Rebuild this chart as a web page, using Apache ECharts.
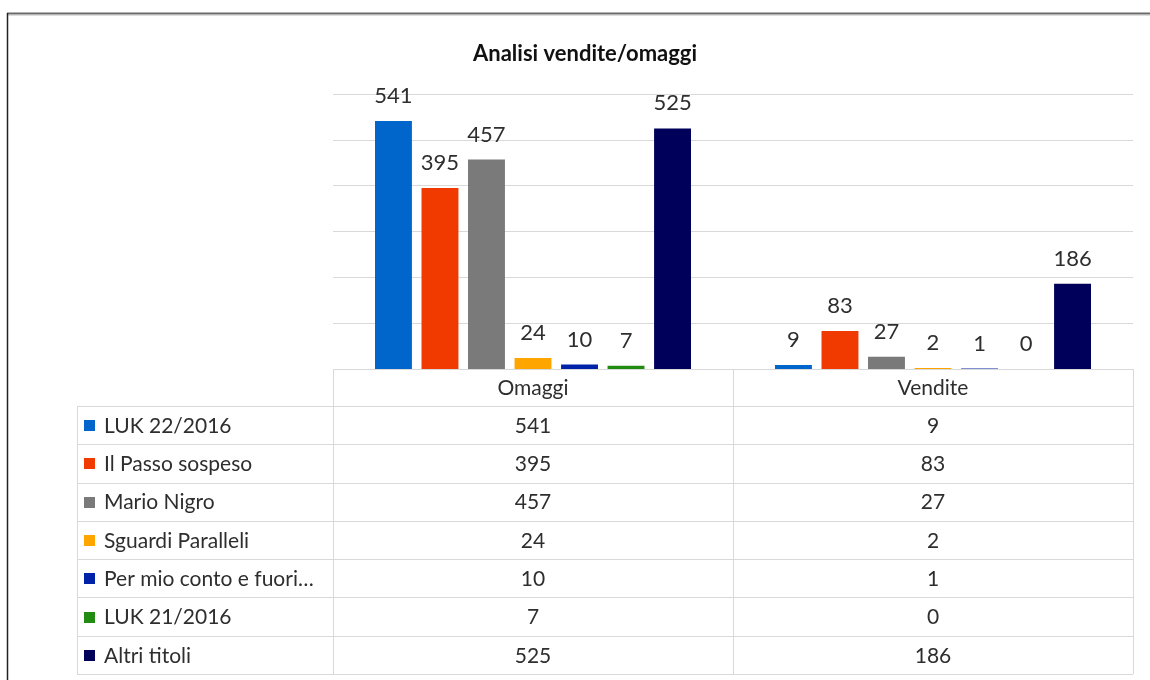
<!DOCTYPE html>
<html>
<head>
<meta charset="utf-8">
<script src="https://cdn.jsdelivr.net/npm/echarts@6/dist/echarts.min.js"></script>
<style>
html, body { margin: 0; padding: 0; background: #fff; }
#chart { width: 1150px; height: 680px; }
</style>
</head>
<body>
<div id="chart"></div>
<script>
// ====== dati ======
const categories = ['Omaggi', 'Vendite'];
const seriesNames = ['LUK 22/2016', 'Il Passo sospeso', 'Mario Nigro', 'Sguardi Paralleli',
    'Per mio conto e fuori…', 'LUK 21/2016', 'Altri titoli'];
const luk22 = [541, 9];
const passoSospeso = [395, 83];
const marioNigro = [457, 27];
const sguardiParalleli = [24, 2];
const perMioConto = [10, 1];
const luk21 = [7, 0];
const altriTitoli = [525, 186];
const yTicks = [0, 100, 200, 300, 400, 500, 600];

const seriesValues = [luk22, passoSospeso, marioNigro, sguardiParalleli, perMioConto, luk21, altriTitoli];
const palette = ['#0066CC', '#F03A00', '#7A7A7A', '#FFA500', '#0022A8', '#228B11', '#00005A'];

const FONT = 'Lato, "Noto Sans", sans-serif';
const textColor = '#2e2e2e';
const lineColor = '#d9d9d9';

// geometria tabella dati (stile Excel)
const T = { left: 77, split: 333, mid: 733, right: 1133, top: 369, head: 406, bottom: 674 };

function buildTable() {
    const g = [];
    const rowH = (T.bottom - T.head) / seriesNames.length;
    const hline = (x1, x2, y) => g.push({
        type: 'line', silent: true,
        shape: { x1: x1, y1: Math.round(y) + 0.5, x2: x2, y2: Math.round(y) + 0.5 },
        style: { stroke: lineColor, lineWidth: 1 }
    });
    const vline = (x, y1, y2) => g.push({
        type: 'line', silent: true,
        shape: { x1: x + 0.5, y1: y1, x2: x + 0.5, y2: y2 },
        style: { stroke: lineColor, lineWidth: 1 }
    });
    const txt = (s, x, y, align) => g.push({
        type: 'text', silent: true,
        style: { text: s, x: x, y: y, align: align, verticalAlign: 'middle',
            fontSize: 21, fontFamily: FONT, fill: textColor }
    });

    hline(T.split, T.right, T.top);
    for (let i = 0; i <= seriesNames.length; i++) hline(T.left, T.right, T.head + i * rowH);
    vline(T.left, T.head, T.bottom);
    vline(T.split, T.top, T.bottom);
    vline(T.mid, T.top, T.bottom);
    vline(T.right, T.top, T.bottom);

    const colX = [(T.split + T.mid) / 2, (T.mid + T.right) / 2];
    categories.forEach((c, j) => txt(c, colX[j], (T.top + T.head) / 2 + 1, 'center'));
    seriesNames.forEach((name, i) => {
        const cy = T.head + i * rowH + rowH / 2;
        g.push({
            type: 'rect', silent: true,
            shape: { x: 84, y: Math.round(cy) - 5, width: 11, height: 11 },
            style: { fill: palette[i] }
        });
        txt(name, 104, cy + 1, 'left');
        seriesValues[i].forEach((v, j) => txt(String(v), colX[j], cy + 1, 'center'));
    });

    // cornice della finestra
    g.push({ type: 'line', silent: true, shape: { x1: 7, y1: 13.5, x2: 1150, y2: 13.5 },
        style: { stroke: '#6a6a6a', lineWidth: 2 } });
    g.push({ type: 'line', silent: true, shape: { x1: 7, y1: 15.5, x2: 1150, y2: 15.5 },
        style: { stroke: '#dedede', lineWidth: 1 } });
    g.push({ type: 'line', silent: true, shape: { x1: 7.5, y1: 13, x2: 7.5, y2: 680 },
        style: { stroke: '#222', lineWidth: 1.5 } });
    return g;
}

function initChart() {
    const dom = document.getElementById('chart');
    const myChart = echarts.init(dom);

    const option = {
        backgroundColor: '#fff',
        animation: false,
        title: {
            text: 'Analisi vendite/omaggi',
            left: 468, top: 38,
            textStyle: { fontFamily: FONT, fontSize: 22, fontWeight: 'bold', color: '#111' }
        },
        grid: { left: T.split, right: 1150 - T.right, top: 94, bottom: 680 - T.top, containLabel: false },
        xAxis: {
            type: 'category', data: categories,
            axisLine: { show: false }, axisTick: { show: false }, axisLabel: { show: false }
        },
        yAxis: {
            type: 'value', min: yTicks[0], max: yTicks[yTicks.length - 1], interval: yTicks[1] - yTicks[0],
            axisLabel: { show: false }, axisLine: { show: false }, axisTick: { show: false },
            splitLine: { lineStyle: { color: lineColor, width: 1 } }
        },
        series: seriesNames.map((name, i) => ({
            name: name,
            type: 'bar',
            data: seriesValues[i],
            barCategoryGap: '21%',
            barGap: '26%',
            itemStyle: { color: palette[i] },
            label: {
                show: true, position: 'top', distance: 14,
                fontFamily: FONT, fontSize: 22, color: textColor
            }
        })),
        graphic: buildTable()
    };

    myChart.setOption(option);
    return myChart;
}

window.onload = () => {
    const chart = initChart();
    window.addEventListener('resize', () => chart.resize());
};
</script>
</body>
</html>
